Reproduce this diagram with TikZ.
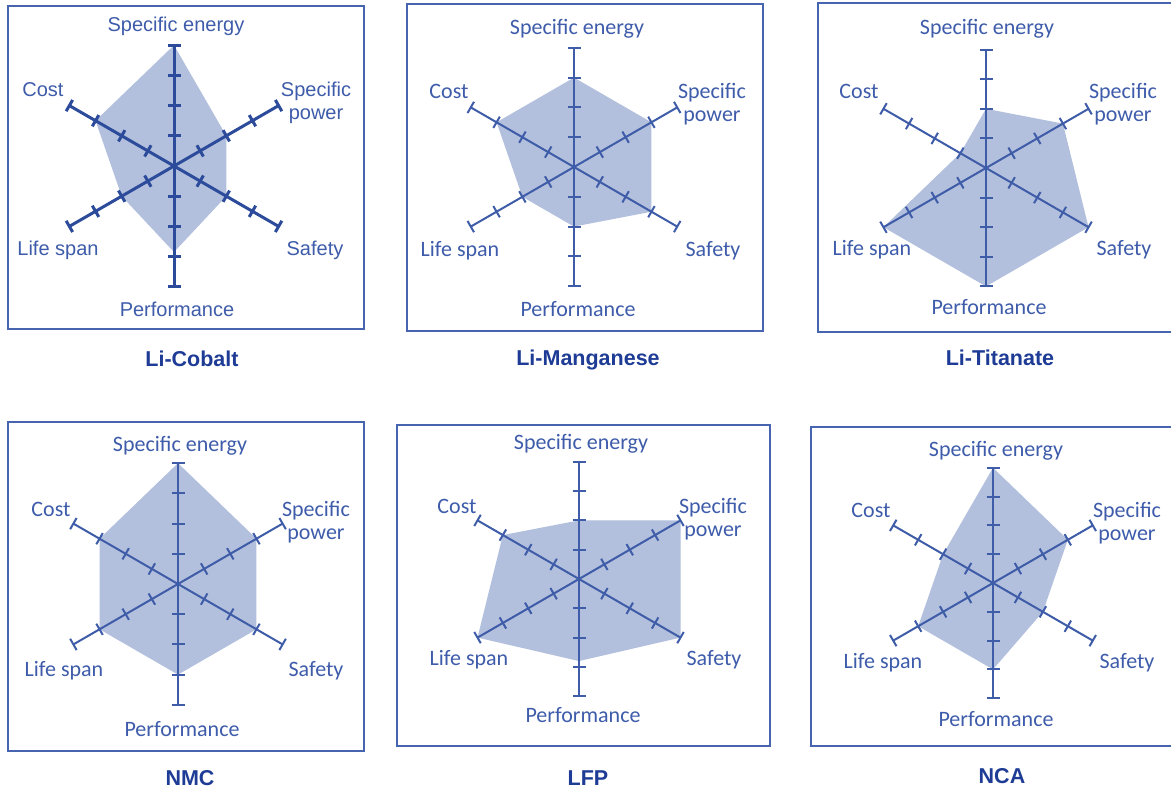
\documentclass[tikz,border=0pt]{standalone}
\usepackage{fontspec}
\setmainfont{Liberation Sans}
\newfontfamily\lblfont{Carlito}
\usetikzlibrary{calc}
\definecolor{fillc}{RGB}{178,192,221}
\definecolor{axisc}{RGB}{62,92,168}
\definecolor{axisdark}{RGB}{45,75,155}
\definecolor{lblc}{RGB}{62,92,170}
\definecolor{titlec}{RGB}{30,60,150}
\definecolor{boxc}{RGB}{70,100,175}
\def\tk{6.5}
\newcommand\radarplot[8]{%
  \fill[fillc] ($(#1)+(90:#3*#2)$) -- ($(#1)+(30:#4*#2)$) -- ($(#1)+(-30:#5*#2)$) -- ($(#1)+(-90:#6*#2)$) -- ($(#1)+(-150:#7*#2)$) -- ($(#1)+(150:#8*#2)$) -- cycle;
  \foreach \a in {90,30,-30,-90,-150,150}{
    \draw[axisline] (#1) -- ($(#1)+(\a:4*#2)$);
    \foreach \k in {1,...,4}{
      \draw[axisline] ($(#1)+(\a:\k*#2)+(\a+90:\tk)$) -- ($(#1)+(\a:\k*#2)+(\a-90:\tk)$);
    }
  }%
}
\tikzset{
  axisline/.style={draw=axisc, line width=2pt},
  panel/.style={draw=boxc, line width=1.5pt},
  lbl/.style={font=\lblfont\fontsize{22}{23}\selectfont, text=lblc, inner sep=0pt, anchor=base, align=center},
  lblA/.style={font=\fontsize{20}{23}\selectfont, text=lblc, inner sep=0pt, anchor=base, align=center},
  ttl/.style={font=\bfseries\fontsize{21.5}{24}\selectfont, text=titlec, inner sep=0pt, anchor=base}
}
\begin{document}
\begin{tikzpicture}[x=1pt,y=1pt]
\useasboundingbox (0,0) rectangle (1171,-790);
\clip (0,0) rectangle (1171,-790);
\fill[white] (0,0) rectangle (1171,-790);
% boxes
\draw[panel] (8,-6) rectangle (364,-329);
\draw[panel] (407,-4) rectangle (763,-331);
\draw[panel] (818,-3) rectangle (1185,-332);
\draw[panel] (8,-422) rectangle (364,-751);
\draw[panel] (397,-425) rectangle (770,-746);
\draw[panel] (811,-427) rectangle (1185,-746);
% centers
\coordinate (c1) at (174,-166);
\coordinate (c2) at (574,-167);
\coordinate (c3) at (986,-168);
\coordinate (c4) at (178,-584);
\coordinate (c5) at (579,-579);
\coordinate (c6) at (993,-583);
% charts
\begin{scope}[axisline/.append style={draw=axisdark, line width=3pt}]
\radarplot{c1}{30.2}{4}{2}{2}{2.85}{2}{3}
\end{scope}
\radarplot{c2}{29.8}{3}{3}{3}{2}{2}{3}
\radarplot{c3}{29.6}{2}{3}{4}{4}{4}{1}
\radarplot{c4}{30.2}{4}{3}{3}{3}{3}{3}
\radarplot{c5}{29.3}{2}{4}{4}{2.8}{4}{3}
\radarplot{c6}{28.8}{4}{3}{2}{3}{3}{2}
% labels chart 1
\node[lblA] (a-se) at (176,-31) {Specific energy};
\node[lblA] (a-co) at (43,-96) {Cost};
\node[lblA] (a-sp) at (316,-119) {Specific\\power};
\node[lblA] (a-ls) at (58,-255) {Life span};
\node[lblA] (a-sa) at (315,-255) {Safety};
\node[lblA] (a-pe) at (177,-316) {Performance};
\node[ttl] (a-t) at (192,-366) {Li-Cobalt};
% chart 2
\node[lbl] (b-se) at (577,-34) {Specific energy};
\node[lbl] (b-co) at (449,-98) {Cost};
\node[lbl] (b-sp) at (712,-121) {Specific\\power};
\node[lbl] (b-ls) at (460,-256) {Life span};
\node[lbl] (b-sa) at (713,-256) {Safety};
\node[lbl] (b-pe) at (578,-316) {Performance};
\node[ttl] (b-t) at (588,-365) {Li-Manganese};
% chart 3
\node[lbl] (c-se) at (987,-34) {Specific energy};
\node[lbl] (c-co) at (859,-98) {Cost};
\node[lbl] (c-sp) at (1123,-121) {Specific\\power};
\node[lbl] (c-ls) at (872,-255) {Life span};
\node[lbl] (c-sa) at (1124,-255) {Safety};
\node[lbl] (c-pe) at (989,-314) {Performance};
\node[ttl] (c-t) at (1000,-365) {Li-Titanate};
% chart 4
\node[lbl] (d-se) at (180,-451) {Specific energy};
\node[lbl] (d-co) at (51,-516) {Cost};
\node[lbl] (d-sp) at (316,-539) {Specific\\power};
\node[lbl] (d-ls) at (64,-676) {Life span};
\node[lbl] (d-sa) at (316,-676) {Safety};
\node[lbl] (d-pe) at (182,-736) {Performance};
\node[ttl] (d-t) at (190,-785) {NMC};
% chart 5
\node[lbl] (e-se) at (581,-449) {Specific energy};
\node[lbl] (e-co) at (457,-513) {Cost};
\node[lbl] (e-sp) at (713,-536) {Specific\\power};
\node[lbl] (e-ls) at (469,-665) {Life span};
\node[lbl] (e-sa) at (714,-665) {Safety};
\node[lbl] (e-pe) at (583,-722) {Performance};
\node[ttl] (e-t) at (588,-785) {LFP};
% chart 6
\node[lbl] (f-se) at (996,-456) {Specific energy};
\node[lbl] (f-co) at (871,-517) {Cost};
\node[lbl] (f-sp) at (1127,-540) {Specific\\power};
\node[lbl] (f-ls) at (883,-668) {Life span};
\node[lbl] (f-sa) at (1127,-668) {Safety};
\node[lbl] (f-pe) at (996,-726) {Performance};
\node[ttl] (f-t) at (1002,-783) {NCA};
\end{tikzpicture}
\end{document}
